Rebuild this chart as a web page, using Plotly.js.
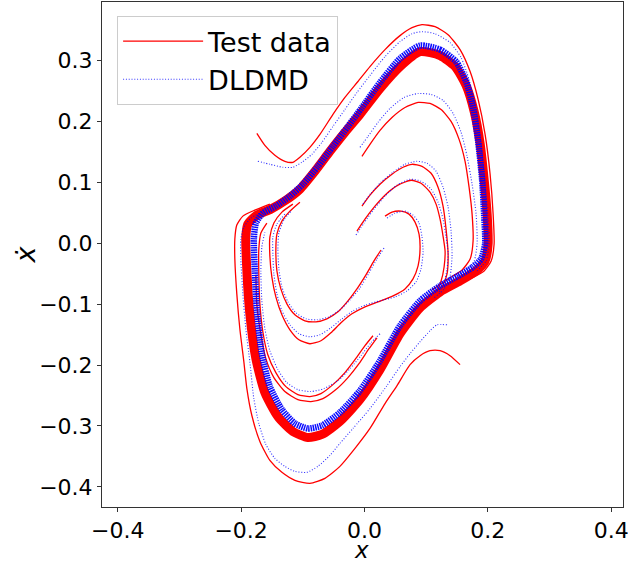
<!DOCTYPE html>
<html>
<head>
<meta charset="utf-8">
<script src="https://cdn.plot.ly/plotly-3.0.1.min.js"></script>
<style>html,body{margin:0;padding:0;background:#fff;}#chart{width:628px;height:563px;}</style>
</head>
<body>
<div id="chart"></div>
<script>
// ---------- tick labels ----------
const xTickVals = [-0.4, -0.2, 0.0, 0.2, 0.4];
const xTickText = ["\u22120.4", "\u22120.2", "0.0", "0.2", "0.4"];
const yTickVals = [-0.4, -0.3, -0.2, -0.1, 0.0, 0.1, 0.2, 0.3];
const yTickText = ["\u22120.4", "\u22120.3", "\u22120.2", "\u22120.1", "0.0", "0.1", "0.2", "0.3"];
const xTitle = "<i>x</i>";
const yTitle = "<i>x\u0307</i>";

// ---------- Test data (red) trajectories ----------
const testOuterTopX = [-0.1745,-0.1615,-0.1453,-0.1291,-0.1161,-0.1047,-0.0885,-0.0722,-0.0511,-0.0317,-0.0106,0.0089,0.0333,0.0576,0.0771,0.0933,0.1144,0.1356,0.1550,0.1713,0.1843,0.1956,0.2037,0.2086,0.2102,0.2054,0.1940,0.1713];
const testOuterTopY = [0.1804,0.1607,0.1444,0.1345,0.1329,0.1411,0.1574,0.1787,0.2115,0.2393,0.2655,0.2900,0.3178,0.3408,0.3538,0.3588,0.3555,0.3424,0.3178,0.2818,0.2360,0.1787,0.1133,0.0478,-0.0013,-0.0291,-0.0455,-0.0586];

const testOuterBottomX = [0.1550,0.1388,0.1226,0.1063,0.0901,0.0739,0.0528,0.0333,0.0089,-0.0154,-0.0398,-0.0641,-0.0885,-0.1128,-0.1339,-0.1534,-0.1696,-0.1826,-0.1907,-0.1956,-0.2021,-0.2070,-0.2102,-0.2102,-0.2070,-0.1972,-0.1778,-0.1534];
const testOuterBottomY = [-0.1993,-0.1846,-0.1764,-0.1764,-0.1846,-0.1993,-0.2337,-0.2632,-0.3041,-0.3368,-0.3663,-0.3859,-0.3941,-0.3892,-0.3761,-0.3565,-0.3254,-0.2828,-0.2386,-0.1944,-0.1404,-0.0831,-0.0259,0.0069,0.0298,0.0445,0.0543,0.0642];

const testCycleX = [0.0901,0.1226,0.1469,0.1648,0.1778,0.1875,0.1940,0.1989,0.2005,0.1956,0.1826,0.1550,0.1226,0.0901,0.0576,0.0252,-0.0073,-0.0398,-0.0690,-0.0917,-0.1161,-0.1404,-0.1615,-0.1761,-0.1859,-0.1907,-0.1924,-0.1891,-0.1745,-0.1518,-0.1274,-0.1047,-0.0804,-0.0560,-0.0317,-0.0073,0.0252,0.0576,0.0901];
const testCycleY = [0.3146,0.3080,0.2900,0.2589,0.2164,0.1640,0.1051,0.0478,-0.0013,-0.0291,-0.0439,-0.0619,-0.0799,-0.1061,-0.1486,-0.2075,-0.2566,-0.2926,-0.3139,-0.3188,-0.3090,-0.2845,-0.2452,-0.1895,-0.1159,-0.0455,0.0101,0.0314,0.0462,0.0560,0.0707,0.0887,0.1182,0.1509,0.1820,0.2115,0.2540,0.2900,0.3146];

const testInnerAX = [-0.0041,0.0089,0.0252,0.0446,0.0657,0.0869,0.1063,0.1242,0.1404,0.1534,0.1631,0.1696,0.1745,0.1761,0.1713,0.1583,0.1356,0.1096];
const testInnerAY = [0.1427,0.1624,0.1853,0.2065,0.2229,0.2311,0.2295,0.2196,0.2000,0.1705,0.1345,0.0920,0.0478,0.0036,-0.0259,-0.0439,-0.0586,-0.0766];

const testInnerBX = [-0.0041,0.0089,0.0252,0.0446,0.0625,0.0771,0.0933,0.1080,0.1193,0.1274,0.1323,0.1356,0.1339,0.1258,0.1096,0.0901];
const testInnerBY = [0.0609,0.0789,0.0969,0.1133,0.1247,0.1296,0.1263,0.1149,0.0920,0.0609,0.0232,-0.0177,-0.0504,-0.0717,-0.0864,-0.1011];

const testInnerCX = [-0.0122,0.0008,0.0170,0.0349,0.0544,0.0755,0.0917,0.1063,0.1161,0.1226,0.1274,0.1307,0.1291,0.1242,0.1161,0.0998];
const testInnerCY = [0.0200,0.0396,0.0609,0.0805,0.0953,0.1034,0.0985,0.0838,0.0642,0.0396,0.0118,-0.0128,-0.0390,-0.0619,-0.0799,-0.0946];

const testInnerDX = [0.0333,0.0446,0.0593,0.0722,0.0820,0.0885,0.0901,0.0869,0.0787,0.0657,0.0463,0.0219,0.0008,-0.0203,-0.0381,-0.0544,-0.0706,-0.0885,-0.1063,-0.1209,-0.1339,-0.1437,-0.1502,-0.1534,-0.1534,-0.1469,-0.1339,-0.1161];
const testInnerDY = [0.0445,0.0511,0.0527,0.0478,0.0347,0.0151,-0.0095,-0.0373,-0.0586,-0.0750,-0.0864,-0.0962,-0.1044,-0.1159,-0.1306,-0.1470,-0.1601,-0.1650,-0.1584,-0.1421,-0.1175,-0.0881,-0.0553,-0.0209,0.0101,0.0331,0.0511,0.0642];

const testInnerEX = [0.0268,0.0154,0.0024,-0.0122,-0.0268,-0.0430,-0.0609,-0.0787,-0.0966,-0.1128,-0.1258,-0.1356,-0.1420,-0.1437,-0.1420,-0.1339,-0.1209,-0.1047];
const testInnerEY = [-0.0111,-0.0291,-0.0520,-0.0750,-0.0946,-0.1126,-0.1241,-0.1290,-0.1273,-0.1175,-0.0995,-0.0750,-0.0455,-0.0128,0.0151,0.0363,0.0527,0.0674];

const testInnerFX = [0.0138,0.0008,-0.0154,-0.0317,-0.0511,-0.0706,-0.0885,-0.1080,-0.1274,-0.1437,-0.1567,-0.1648,-0.1696,-0.1713,-0.1713,-0.1680,-0.1583];
const testInnerFY = [-0.1519,-0.1682,-0.1912,-0.2124,-0.2321,-0.2468,-0.2517,-0.2484,-0.2354,-0.2124,-0.1830,-0.1453,-0.0995,-0.0504,-0.0095,0.0167,0.0331];

const testInnerGX = [0.0203,0.0073,-0.0089,-0.0268,-0.0463,-0.0674,-0.0869,-0.1080,-0.1291,-0.1469,-0.1599,-0.1680,-0.1745,-0.1761];
const testInnerGY = [-0.1552,-0.1732,-0.1977,-0.2206,-0.2403,-0.2550,-0.2599,-0.2566,-0.2435,-0.2206,-0.1895,-0.1502,-0.1011,-0.0520];

// ---------- DLDMD (blue) trajectories ----------
const dlOuterTopX = [-0.1729,-0.1534,-0.1323,-0.1161,-0.1015,-0.0852,-0.0690,-0.0511,-0.0317,-0.0122,0.0089,0.0333,0.0576,0.0771,0.0933,0.1144,0.1388,0.1567,0.1696,0.1810,0.1891,0.1956,0.2005,0.2021,0.1972,0.1826];
const dlOuterTopY = [0.1345,0.1296,0.1247,0.1247,0.1329,0.1460,0.1656,0.1918,0.2196,0.2475,0.2753,0.3064,0.3309,0.3440,0.3473,0.3440,0.3293,0.3047,0.2687,0.2196,0.1624,0.0969,0.0396,-0.0013,-0.0291,-0.0455];

const dlOuterBottomX = [0.1339,0.1177,0.1063,0.0901,0.0739,0.0576,0.0365,0.0089,-0.0187,-0.0398,-0.0560,-0.0755,-0.0933,-0.1128,-0.1291,-0.1453,-0.1599,-0.1713,-0.1794,-0.1859,-0.1924,-0.1972,-0.2005,-0.2005,-0.1956,-0.1843,-0.1664];
const dlOuterBottomY = [-0.1339,-0.1339,-0.1437,-0.1617,-0.1813,-0.2026,-0.2337,-0.2714,-0.3041,-0.3286,-0.3483,-0.3663,-0.3761,-0.3745,-0.3663,-0.3532,-0.3303,-0.2959,-0.2550,-0.1944,-0.1404,-0.0831,-0.0259,0.0069,0.0265,0.0412,0.0511];

const dlCycleX = [0.0901,0.1226,0.1485,0.1648,0.1761,0.1843,0.1907,0.1940,0.1956,0.1891,0.1761,0.1518,0.1226,0.0901,0.0576,0.0252,-0.0073,-0.0398,-0.0690,-0.0917,-0.1128,-0.1339,-0.1534,-0.1664,-0.1745,-0.1778,-0.1794,-0.1761,-0.1648,-0.1437,-0.1209,-0.0998,-0.0755,-0.0511,-0.0268,-0.0041,0.0252,0.0576,0.0901];
const dlCycleY = [0.3244,0.3178,0.2982,0.2655,0.2229,0.1673,0.1051,0.0478,-0.0013,-0.0259,-0.0390,-0.0537,-0.0700,-0.0946,-0.1355,-0.1928,-0.2419,-0.2779,-0.2992,-0.3041,-0.2959,-0.2730,-0.2354,-0.1813,-0.1110,-0.0455,0.0069,0.0331,0.0494,0.0609,0.0773,0.0969,0.1263,0.1591,0.1918,0.2229,0.2638,0.3031,0.3244];

const dlInnerAX = [-0.0073,0.0057,0.0219,0.0414,0.0641,0.0869,0.1080,0.1274,0.1437,0.1567,0.1664,0.1745,0.1810,0.1826,0.1778,0.1631,0.1388];
const dlInnerAY = [0.1574,0.1754,0.1984,0.2213,0.2393,0.2458,0.2442,0.2344,0.2131,0.1820,0.1427,0.0969,0.0478,-0.0013,-0.0291,-0.0455,-0.0602];

const dlInnerBX = [-0.0024,0.0106,0.0268,0.0463,0.0657,0.0852,0.1015,0.1161,0.1274,0.1356,0.1404,0.1420,0.1388,0.1291,0.1128];
const dlInnerBY = [0.0642,0.0822,0.1002,0.1165,0.1296,0.1345,0.1313,0.1182,0.0920,0.0592,0.0200,-0.0209,-0.0537,-0.0750,-0.0897];

const dlInnerCX = [-0.0138,-0.0008,0.0154,0.0333,0.0528,0.0739,0.0917,0.1080,0.1193,0.1274,0.1323,0.1356,0.1339,0.1291,0.1193];
const dlInnerCY = [0.0134,0.0331,0.0560,0.0773,0.0953,0.1051,0.1018,0.0887,0.0674,0.0396,0.0101,-0.0160,-0.0422,-0.0651,-0.0831];

const dlInnerDX = [0.0365,0.0495,0.0657,0.0787,0.0885,0.0933,0.0950,0.0917,0.0836,0.0690,0.0495,0.0252,0.0024,-0.0187,-0.0365,-0.0544,-0.0722,-0.0885,-0.1063,-0.1209,-0.1339,-0.1420,-0.1469,-0.1485,-0.1485,-0.1420,-0.1291];
const dlInnerDY = [0.0412,0.0494,0.0527,0.0462,0.0331,0.0101,-0.0144,-0.0422,-0.0635,-0.0782,-0.0881,-0.0946,-0.1011,-0.1110,-0.1241,-0.1388,-0.1502,-0.1535,-0.1486,-0.1339,-0.1110,-0.0831,-0.0504,-0.0177,0.0101,0.0314,0.0478];

const dlInnerEX = [0.0317,0.0203,0.0073,-0.0073,-0.0235,-0.0398,-0.0576,-0.0771,-0.0950,-0.1112,-0.1242,-0.1339,-0.1388,-0.1404,-0.1388,-0.1307,-0.1177];
const dlInnerEY = [-0.0079,-0.0259,-0.0488,-0.0733,-0.0930,-0.1093,-0.1208,-0.1257,-0.1241,-0.1142,-0.0962,-0.0717,-0.0422,-0.0095,0.0167,0.0380,0.0543];

const dlInnerFX = [0.0252,0.0106,-0.0057,-0.0235,-0.0430,-0.0657,-0.0869,-0.1080,-0.1258,-0.1404,-0.1534,-0.1615,-0.1664,-0.1680,-0.1664,-0.1615];
const dlInnerFY = [-0.1486,-0.1633,-0.1846,-0.2059,-0.2255,-0.2386,-0.2435,-0.2403,-0.2288,-0.2075,-0.1764,-0.1404,-0.0946,-0.0455,-0.0062,0.0183];

// ---------- build traces ----------
const FONT = "DejaVu Sans, Liberation Sans, sans-serif";
const RED = "#ff0000";
const BLUE = "#0000ff";
const traces = [];

function addTest(xs, ys, width, legend) {
  traces.push({
    x: xs, y: ys, type: "scatter", mode: "lines",
    line: {color: RED, width: width, shape: "spline", smoothing: 0.6},
    name: "Test data", legendgroup: "test", showlegend: !!legend,
    hoverinfo: "skip"
  });
}
function addDl(xs, ys, width, dash, legend, opacity) {
  traces.push({
    x: xs, y: ys, type: "scatter", mode: "lines",
    line: {color: BLUE, width: width, dash: dash, shape: "spline", smoothing: 0.6},
    opacity: opacity || 1,
    name: "DLDMD", legendgroup: "dl", showlegend: !!legend,
    hoverinfo: "skip"
  });
}

// red band + red trajectories
addTest(testCycleX, testCycleY, 9, false);
addTest(testOuterTopX, testOuterTopY, 1.3, true);
addTest(testOuterBottomX, testOuterBottomY, 1.3, false);
addTest(testInnerAX, testInnerAY, 1.3, false);
addTest(testInnerBX, testInnerBY, 1.3, false);
addTest(testInnerCX, testInnerCY, 1.3, false);
addTest(testInnerDX, testInnerDY, 1.3, false);
addTest(testInnerEX, testInnerEY, 1.3, false);
addTest(testInnerFX, testInnerFY, 1.3, false);
addTest(testInnerGX, testInnerGY, 1.3, false);

// blue band + blue trajectories
addDl(dlCycleX, dlCycleY, 6.5, "1.5px,0.8px", false, 0.95);
addDl(dlOuterTopX, dlOuterTopY, 1.1, "1px,1.8px", true, 0.8);
addDl(dlOuterBottomX, dlOuterBottomY, 1.1, "1px,1.8px", false, 0.8);
addDl(dlInnerAX, dlInnerAY, 1.1, "1px,1.8px", false, 0.8);
addDl(dlInnerBX, dlInnerBY, 1.1, "1px,1.8px", false, 0.8);
addDl(dlInnerCX, dlInnerCY, 1.1, "1px,1.8px", false, 0.8);
addDl(dlInnerDX, dlInnerDY, 1.1, "1px,1.8px", false, 0.8);
addDl(dlInnerEX, dlInnerEY, 1.1, "1px,1.8px", false, 0.8);
addDl(dlInnerFX, dlInnerFY, 1.1, "1px,1.8px", false, 0.8);

const axisCommon = {
  showgrid: false, zeroline: false,
  showline: true, mirror: true, linecolor: "#333333", linewidth: 1,
  ticks: "outside", ticklen: 4, tickwidth: 1, tickcolor: "#333333",
  tickfont: {family: FONT, size: 22, color: "#000000"},
  tickmode: "array", ticklabeloverflow: "allow", automargin: false
};

const layout = {
  width: 628, height: 563,
  margin: {l: 102, r: 5, t: 2, b: 56},
  paper_bgcolor: "#ffffff", plot_bgcolor: "#ffffff",
  font: {family: FONT, color: "#000000"},
  xaxis: Object.assign({}, axisCommon, {
    range: [-0.4256, 0.4192],
    tickvals: xTickVals, ticktext: xTickText
  }),
  yaxis: Object.assign({}, axisCommon, {
    range: [-0.433, 0.396],
    tickvals: yTickVals, ticktext: yTickText
  }),
  annotations: [
    {text: xTitle, xref: "paper", yref: "paper", x: 0.499, y: -0.0842,
     xanchor: "center", yanchor: "middle", showarrow: false, borderpad: 0,
     font: {family: FONT, size: 23, color: "#000000"}},
    {text: yTitle, xref: "paper", yref: "paper", x: -0.146, y: 0.5,
     xanchor: "center", yanchor: "middle", showarrow: false, textangle: -90, borderpad: 0,
     font: {family: FONT, size: 27, color: "#000000"}}
  ],
  showlegend: true,
  legend: {
    x: 0.029, y: 0.972, xanchor: "left", yanchor: "top",
    bgcolor: "rgba(255,255,255,0.85)", bordercolor: "#cccccc", borderwidth: 1,
    font: {family: FONT, size: 27, color: "#000000"},
    itemwidth: 80, tracegroupgap: 0
  }
};

Plotly.newPlot("chart", traces, layout, {displayModeBar: false, staticPlot: true});
</script>
</body>
</html>
